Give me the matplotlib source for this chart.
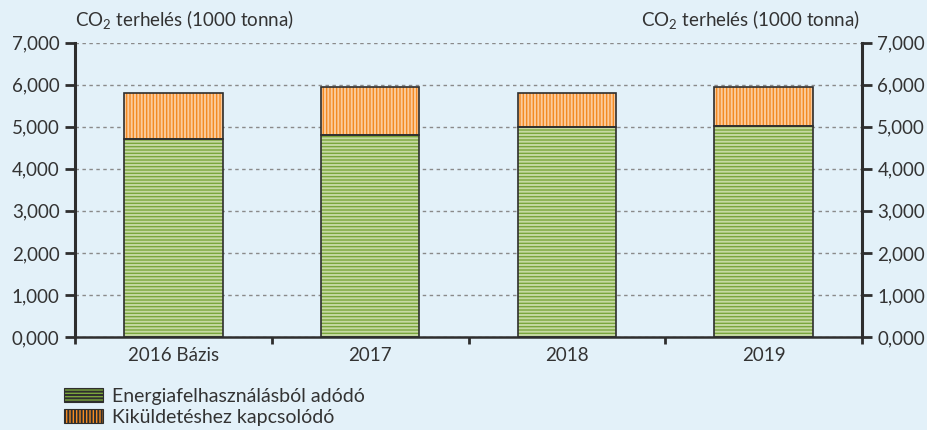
import matplotlib.pyplot as plt
import matplotlib.ticker as mticker
from matplotlib.patches import Patch
import numpy as np

plt.rcParams.update({
    'font.family': ['Lato', 'DejaVu Sans'],
    'font.size': 13.5,
    'mathtext.fontset': 'custom',
    'mathtext.rm': 'Lato',
    'hatch.linewidth': 1.4,
})

# CO2 terhelés, 1000 tonna
categories = ['2016 Bázis', '2017', '2018', '2019']
energia = [4.700, 4.800, 4.985, 5.020]
kikuldetes = [1.095, 1.150, 0.810, 0.930]
series_labels = ['Energiafelhasználásból adódó', 'Kiküldetéshez kapcsolódó']
y_ticks = [0, 1, 2, 3, 4, 5, 6, 7]

bg = '#E3F1F9'
green_dark, green_light = '#7AA63C', '#C6D9A2'
orange_dark, orange_light = '#F38A22', '#FBCB9C'
edge = '#2E2E2E'
txt = '#333333'

fig = plt.figure(figsize=(9.28, 4.30), dpi=100, facecolor=bg)
ax = fig.add_axes([0.0808, 0.2163, 0.8481, 0.6844])
ax.set_facecolor(bg)

x = np.arange(len(categories))
w = 0.5

# striped fill (hatch colour = edgecolor), then outline on top
ax.bar(x, energia, w, color=green_dark, edgecolor=green_light, hatch='-----', linewidth=0, zorder=2)
ax.bar(x, kikuldetes, w, bottom=energia, color=orange_dark, edgecolor=orange_light, hatch='|||||',
       linewidth=0, zorder=2)
ax.bar(x, energia, w, fill=False, edgecolor=edge, linewidth=1.2, zorder=3)
ax.bar(x, kikuldetes, w, bottom=energia, fill=False, edgecolor=edge, linewidth=1.2, zorder=3)

ax.set_xlim(-0.5, len(categories) - 0.5)
ax.set_ylim(0, 7)
ax.set_yticks(y_ticks)
ax.yaxis.set_major_formatter(mticker.FuncFormatter(lambda v, p: f'{v:.3f}'.replace('.', ',')))
ax.grid(axis='y', color='#8A8A8A', linestyle=(0, (2.5, 2.5)), linewidth=1.0, zorder=0)
ax.set_axisbelow(True)

ax.set_xticks(x)
ax.set_xticklabels(categories, color=txt)
ax.set_xticks(np.arange(-0.5, len(categories)), minor=True)
ax.tick_params(axis='x', which='major', length=0, pad=7)
ax.tick_params(axis='x', which='minor', length=5, width=2, color=edge, direction='out')
ax.tick_params(axis='y', left=True, right=True, labelleft=True, labelright=True,
               length=7, width=2, color=edge, labelcolor=txt, pad=4)

ax.spines['top'].set_visible(False)
for side in ['left', 'right']:
    ax.spines[side].set_linewidth(2.2)
    ax.spines[side].set_color(edge)
ax.spines['bottom'].set_linewidth(1.8)
ax.spines['bottom'].set_color(edge)

title = 'CO$_2$ terhelés (1000 tonna)'
fig.text(0.0808, 0.925, title, ha='left', va='bottom', color=txt, fontsize=13.5)
fig.text(0.927, 0.925, title, ha='right', va='bottom', color=txt, fontsize=13.5)

handles = [
    Patch(facecolor=green_dark, edgecolor=green_light, hatch='-----', linewidth=0),
    Patch(facecolor=orange_dark, edgecolor=orange_light, hatch='|||||', linewidth=0),
]
leg = fig.legend(handles, series_labels, loc='upper left', bbox_to_anchor=(0.069, 0.098),
                 frameon=False, handlelength=2.0, handleheight=0.7, handletextpad=0.45,
                 labelspacing=0.2, borderaxespad=0, borderpad=0, fontsize=14)
for t in leg.get_texts():
    t.set_color(txt)
for p in leg.get_patches():
    p.set_edgecolor(edge)
    p.set_linewidth(0.8)

fig.savefig('out.png', dpi=100, facecolor=bg)
